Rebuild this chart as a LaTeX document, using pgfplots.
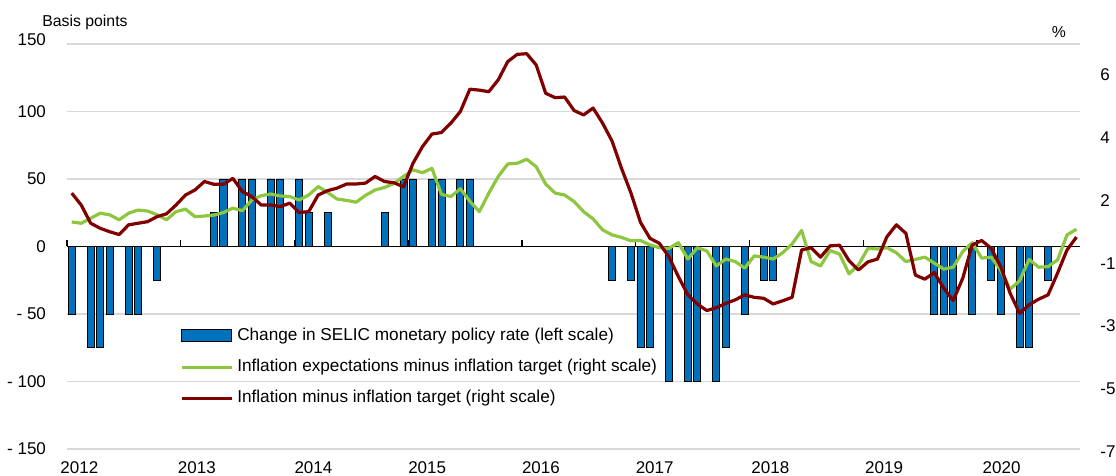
\documentclass[border=0pt]{standalone}
\usepackage{pgfplots}
\pgfplotsset{compat=1.18}
\usepackage{fontspec}
\setmainfont{Liberation Sans}
\definecolor{gridgrey}{RGB}{217,217,217}
\definecolor{barblue}{RGB}{0,114,188}
\definecolor{lgreen}{RGB}{141,198,63}
\definecolor{dred}{RGB}{128,0,0}
\begin{document}
\begin{tikzpicture}
\path[use as bounding box] (-33.5pt,-13.5pt) rectangle (524.5pt,224.5pt);
\begin{axis}[
  at={(0,0)}, anchor=south west,
  scale only axis, width=506.5pt, height=202.5pt,
  xmin=0, xmax=106.87, ymin=-150, ymax=150,
  axis line style={draw=none},
  tick style={draw=none},
  major tick length=0pt,
  ytick={-150,-100,-50,0,50,100,150},
  yticklabels={- 150,- 100,- 50,0,50,100,\raisebox{4pt}{150}},
  ymajorgrids, grid style={line width=0.75pt, color=gridgrey},
  xtick={1.3,13.7,26,38,50,62,74.2,86.2,98.6},
  xticklabels={2012,2013,2014,2015,2016,2017,2018,2019,2020},
  tick label style={font=\fontsize{8.5}{10}\selectfont},
  yticklabel style={xshift=-7pt},
  xticklabel style={yshift=-3pt},
  clip=false,
]
\addplot[ybar, bar width=0.74, bar shift=0pt, fill=barblue, draw=black, line width=0.4pt] coordinates {
(0.5,-50) (2.5,-75) (3.5,-75) (4.5,-50) (6.5,-50) (7.5,-50) (9.5,-25)
(15.5,25) (16.5,50) (18.5,50) (19.5,50) (21.5,50) (22.5,50) (24.5,50) (25.5,25) (27.5,25)
(33.5,25) (35.5,50) (36.5,50) (38.5,50) (39.5,50) (41.5,50) (42.5,50)
(57.5,-25) (59.5,-25) (60.5,-75) (61.5,-75) (63.5,-100) (65.5,-100) (66.5,-100) (68.5,-100) (69.5,-75) (71.5,-50) (73.5,-25) (74.5,-25)
(91.5,-50) (92.5,-50) (93.5,-50) (95.5,-50) (97.5,-25) (98.5,-50) (100.5,-75) (101.5,-75) (103.5,-25)
};
\draw[black, line width=0.6pt] (axis cs:0,0) -- (axis cs:106.87,0);
\pgfplotsinvokeforeach{0,12,24,36,48,60,72,84,96}{
  \draw[black, line width=0.6pt] (axis cs:#1,0) -- ++(0pt,3pt);
}
\end{axis}
\begin{axis}[
  at={(0,0)}, anchor=south west,
  scale only axis, width=506.5pt, height=202.5pt,
  xmin=0, xmax=106.87, ymin=-7, ymax=5.9,
  hide x axis,
  axis y line*=right,
  y axis line style={draw=none},
  tick style={draw=none},
  major tick length=0pt,
  ytick={-7,-5,-3,-1,1,3,5},
  yticklabels={-7,-5,-3,-1,2,4,6},
  tick label style={font=\fontsize{8.5}{10}\selectfont},
  yticklabel style={xshift=6.7pt, yshift=-1.35pt},
  legend image code/.code={\draw[#1] (0pt,0pt) -- (25pt,0pt);},
  legend cell align=left,
  legend style={at={(axis description cs:0.1116,0.299)}, anchor=north west,
    draw=none, fill=none, inner sep=0pt, outer sep=0pt, row sep=7.5pt,
    font=\fontsize{8.6}{10}\selectfont,
    nodes={inner sep=0pt, text height=6.3pt, text depth=1.8pt},
    /tikz/every odd column/.append style={column sep=2pt}},
  clip=false,
]
\addlegendimage{legend image code/.code={\draw[fill=barblue,draw=black,line width=0.5pt] (0pt,-3pt) rectangle (25pt,3pt);}}
\addlegendentry{Change in SELIC monetary policy rate (left scale)}
\addplot[color=lgreen, line width=1.6pt, line join=round] table {
0.5 0.23
1.5 0.19
2.5 0.35
3.5 0.51
4.5 0.46
5.5 0.30
6.5 0.51
7.5 0.61
8.5 0.58
9.5 0.46
10.5 0.30
11.5 0.56
12.5 0.64
13.5 0.40
14.5 0.42
15.5 0.45
16.5 0.53
17.5 0.67
18.5 0.59
19.5 0.93
20.5 1.07
21.5 1.12
22.5 1.06
23.5 1.04
24.5 0.93
25.5 1.09
26.5 1.36
27.5 1.17
28.5 0.96
29.5 0.92
30.5 0.86
31.5 1.08
32.5 1.25
33.5 1.33
34.5 1.46
35.5 1.68
36.5 1.89
37.5 1.80
38.5 1.94
39.5 1.11
40.5 1.04
41.5 1.29
42.5 0.89
43.5 0.56
44.5 1.15
45.5 1.68
46.5 2.08
47.5 2.10
48.5 2.23
49.5 1.99
50.5 1.44
51.5 1.15
52.5 1.09
53.5 0.88
54.5 0.56
55.5 0.33
56.5 -0.02
57.5 -0.18
58.5 -0.26
59.5 -0.37
60.5 -0.36
61.5 -0.50
62.5 -0.59
63.5 -0.61
64.5 -0.43
65.5 -0.95
66.5 -0.59
67.5 -0.69
68.5 -1.17
69.5 -0.95
70.5 -1.03
71.5 -1.24
72.5 -0.85
73.5 -0.89
74.5 -0.95
75.5 -0.75
76.5 -0.47
77.5 -0.04
78.5 -1.03
79.5 -1.17
80.5 -0.68
81.5 -0.79
82.5 -1.42
83.5 -1.14
84.5 -0.61
85.5 -0.63
86.5 -0.59
87.5 -0.75
88.5 -1.03
89.5 -0.96
90.5 -0.89
91.5 -1.08
92.5 -1.27
93.5 -1.21
94.5 -0.71
95.5 -0.43
96.5 -0.92
97.5 -0.89
98.5 -1.30
99.5 -1.91
100.5 -1.64
101.5 -0.96
102.5 -1.21
103.5 -1.19
104.5 -0.98
105.5 -0.18
106.5 0.00
};
\addlegendentry{Inflation expectations minus inflation target (right scale)}
\addplot[color=dred, line width=1.6pt, line join=round] table {
0.5 1.15
1.5 0.77
2.5 0.19
3.5 0.03
4.5 -0.08
5.5 -0.17
6.5 0.14
7.5 0.19
8.5 0.24
9.5 0.40
10.5 0.49
11.5 0.77
12.5 1.09
13.5 1.25
14.5 1.52
15.5 1.43
16.5 1.43
17.5 1.62
18.5 1.20
19.5 1.04
20.5 0.77
21.5 0.77
22.5 0.72
23.5 0.83
24.5 0.53
25.5 0.56
26.5 1.09
27.5 1.23
28.5 1.31
29.5 1.44
30.5 1.44
31.5 1.47
32.5 1.68
33.5 1.52
34.5 1.48
35.5 1.35
36.5 2.10
37.5 2.63
38.5 3.03
39.5 3.08
40.5 3.38
41.5 3.75
42.5 4.46
43.5 4.43
44.5 4.38
45.5 4.76
46.5 5.34
47.5 5.57
48.5 5.59
49.5 5.23
50.5 4.33
51.5 4.19
52.5 4.21
53.5 3.78
54.5 3.64
55.5 3.86
56.5 3.38
57.5 2.81
58.5 1.94
59.5 1.15
60.5 0.22
61.5 -0.29
62.5 -0.45
63.5 -0.88
64.5 -1.51
65.5 -2.09
66.5 -2.38
67.5 -2.59
68.5 -2.50
69.5 -2.36
70.5 -2.25
71.5 -2.09
72.5 -2.17
73.5 -2.20
74.5 -2.38
75.5 -2.28
76.5 -2.17
77.5 -0.66
78.5 -0.59
79.5 -0.89
80.5 -0.53
81.5 -0.51
82.5 -1.00
83.5 -1.30
84.5 -1.04
85.5 -0.95
86.5 -0.24
87.5 0.14
88.5 -0.13
89.5 -1.46
90.5 -1.59
91.5 -1.38
92.5 -1.88
93.5 -2.27
94.5 -1.56
95.5 -0.50
96.5 -0.36
97.5 -0.61
98.5 -1.19
99.5 -2.04
100.5 -2.68
101.5 -2.41
102.5 -2.23
103.5 -2.09
104.5 -1.40
105.5 -0.66
106.5 -0.25
};
\addlegendentry{Inflation minus inflation target (right scale)}
\end{axis}
\node[anchor=west, font=\fontsize{7.9}{9}\selectfont, inner sep=0pt] at (-12.5pt,213.25pt) {Basis points};
\node[font=\fontsize{7.9}{9}\selectfont, inner sep=0pt] at (496pt,208.5pt) {\%};
\end{tikzpicture}
\end{document}
